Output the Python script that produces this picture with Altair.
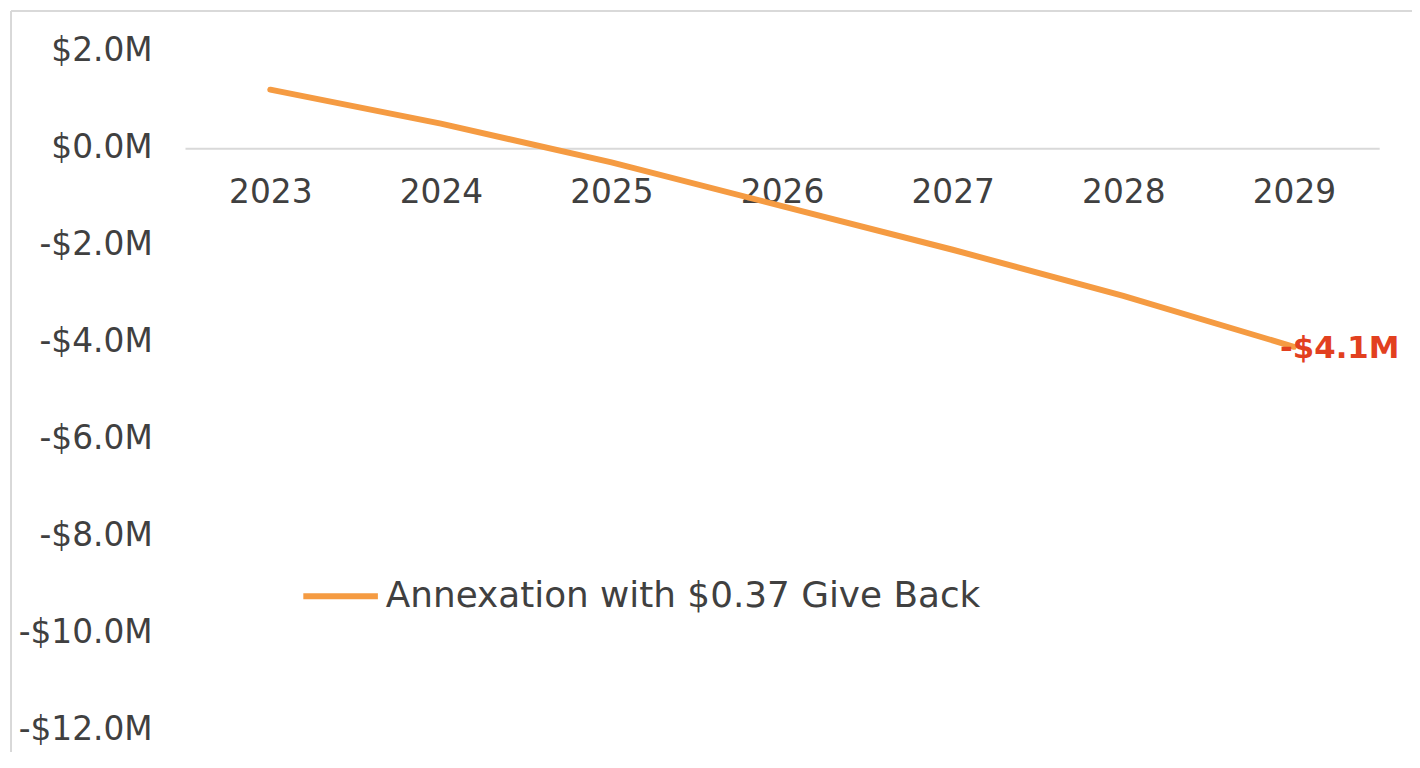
import altair as alt
import pandas as pd

years = ["2023", "2024", "2025", "2026", "2027", "2028", "2029"]
values = [1.2, 0.5, -0.3, -1.2, -2.1, -3.05, -4.1]
series_name = "Annexation with $0.37 Give Back"
y_ticks = [2, 0, -2, -4, -6, -8, -10, -12]

df = pd.DataFrame({"year": years, "value": values, "series": [series_name] * len(years)})

W, H = 1201, 683
FONT = "DejaVu Sans"
GREY = "#404040"

x_enc = alt.X("year:O", sort=years, title=None,
              scale=alt.Scale(type="point", padding=0.5),
              axis=alt.Axis(orient="bottom", offset=-585, labelAngle=0, ticks=False,
                            domainColor="#D9D9D9", domainWidth=2, labelPadding=28,
                            labelFontSize=33, labelColor=GREY, labelFont=FONT, grid=False))
y_enc = alt.Y("value:Q", title=None,
              scale=alt.Scale(domain=[-12, 2], nice=False, zero=False),
              axis=alt.Axis(values=y_ticks, ticks=False, domain=False, grid=False,
                            labelPadding=33, labelFontSize=33, labelColor=GREY, labelFont=FONT,
                            labelExpr="datum.value < 0 ? '-$' + format(abs(datum.value), '.1f') + 'M' : '$' + format(datum.value, '.1f') + 'M'"))

base = alt.Chart(df)

line = base.mark_line(strokeWidth=6, strokeCap="round").encode(
    x=x_enc, y=y_enc,
    color=alt.Color("series:N", title=None,
                    scale=alt.Scale(range=["#F59B42"]),
                    legend=alt.Legend(orient="none", legendX=116, legendY=508, padding=0,
                                      symbolType="stroke", symbolSize=5625, symbolStrokeWidth=6,
                                      labelFontSize=36, labelFont=FONT, labelColor=GREY,
                                      labelOffset=5, labelLimit=800))
)

label = base.transform_filter(alt.datum.year == years[-1]).transform_calculate(
    txt="(datum.value < 0 ? '-$' : '$') + format(abs(datum.value), '.1f') + 'M'"
).mark_text(align="left", baseline="middle", dx=-14, dy=2, fontSize=31, fontWeight="bold",
            font=FONT, color="#E2401F").encode(
    x=alt.X("year:O", sort=years), y="value:Q", text="txt:N")

border_top = base.mark_rule(color="#D9D9D9", strokeWidth=2).encode(
    x=alt.value(-175), x2=alt.value(W + 60), y=alt.value(-40))
border_left = base.mark_rule(color="#D9D9D9", strokeWidth=2).encode(
    x=alt.value(-175), y=alt.value(-40), y2=alt.value(H + 60))

chart = alt.layer(border_top, border_left, line, label).properties(
    width=W, height=H,
    autosize=alt.AutoSizeParams(type="none"),
    padding={"left": 178, "top": 41, "right": 33, "bottom": 20},
).configure(background="white", view=alt.ViewConfig(stroke=None, strokeWidth=0))

chart.save("out.html", embed_options={"renderer": "svg", "actions": False})
